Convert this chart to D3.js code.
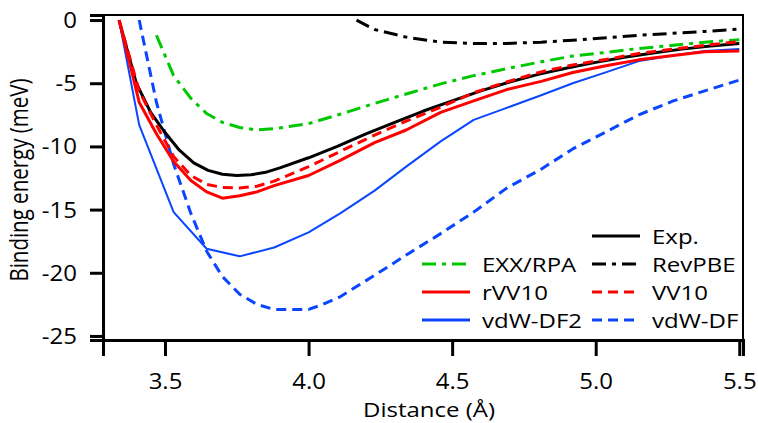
<!DOCTYPE html>
<html><head><meta charset="utf-8">
<script src="https://cdn.jsdelivr.net/npm/d3@7"></script>
<style>
html,body{margin:0;padding:0;background:#fff;}
text{font-family:"Open Sans",sans-serif;fill:#000;}
</style></head>
<body>
<svg id="chart" width="758" height="423"></svg>
<script>
// ---- data ----
const expX   = [3.34,3.40,3.45,3.50,3.55,3.60,3.65,3.70,3.75,3.80,3.85,3.90,4.0,4.1,4.2,4.3,4.4,4.5,4.6,4.7,4.8,4.9,5.0,5.1,5.2,5.3,5.4,5.5];
const expY   = [0,-5.0,-7.3,-8.9,-10.3,-11.3,-11.9,-12.2,-12.3,-12.25,-12.05,-11.7,-10.9,-10.0,-9.0,-8.1,-7.2,-6.4,-5.6,-4.9,-4.3,-3.8,-3.35,-2.95,-2.6,-2.3,-2.05,-1.85];

const calcX  = [3.34,3.41,3.47,3.53,3.59,3.645,3.70,3.76,3.82,3.88,4.0,4.11,4.23,4.34,4.46,4.575,4.69,4.81,4.92,5.04,5.15,5.27,5.38,5.5];
const rvv10Y = [0,-6.5,-9.0,-11.2,-12.7,-13.6,-14.1,-13.9,-13.6,-13.1,-12.3,-11.1,-9.7,-8.7,-7.3,-6.4,-5.5,-4.85,-4.15,-3.6,-3.15,-2.8,-2.5,-2.45];
const vv10Y  = [0,-5.6,-8.3,-10.8,-12.3,-13.0,-13.25,-13.3,-13.15,-12.75,-11.6,-10.4,-9.1,-8.0,-6.9,-5.75,-4.9,-4.1,-3.55,-3.1,-2.65,-2.3,-2.0,-1.7];

const df2X   = [3.34,3.41,3.53,3.645,3.76,3.88,4.0,4.11,4.23,4.34,4.46,4.575,4.69,4.81,4.92,5.04,5.15,5.27,5.38,5.5];
const df2Y   = [0,-8.3,-15.2,-18.1,-18.7,-18.0,-16.8,-15.3,-13.5,-11.6,-9.6,-7.9,-6.95,-5.95,-5.0,-4.1,-3.25,-2.8,-2.45,-2.3];

const dfX    = [3.41,3.47,3.53,3.59,3.645,3.70,3.76,3.82,3.88,4.0,4.05,4.11,4.23,4.34,4.46,4.575,4.69,4.81,4.92,5.04,5.15,5.27,5.38,5.5];
const dfY    = [0,-6.5,-11.4,-15.3,-18.3,-20.3,-21.7,-22.5,-22.9,-22.9,-22.5,-21.9,-20.2,-18.6,-16.9,-15.2,-13.3,-11.8,-10.2,-8.8,-7.5,-6.4,-5.6,-4.75];

const rpaX   = [3.47,3.53,3.59,3.645,3.70,3.76,3.82,3.88,4.0,4.11,4.23,4.34,4.46,4.575,4.69,4.81,4.92,5.04,5.15,5.27,5.38,5.5];
const rpaY   = [-1.2,-4.4,-6.2,-7.4,-8.1,-8.5,-8.7,-8.6,-8.2,-7.45,-6.6,-5.85,-5.05,-4.4,-3.85,-3.3,-2.85,-2.55,-2.25,-2.0,-1.75,-1.55];

const pbeX   = [4.167,4.23,4.34,4.46,4.575,4.69,4.81,4.92,5.04,5.15,5.27,5.38,5.5];
const pbeY   = [0,-0.75,-1.35,-1.75,-1.85,-1.85,-1.75,-1.6,-1.4,-1.2,-1.05,-0.9,-0.72];

const xTicks = [3.5,4.0,4.5,5.0,5.5];
const yTicks = [0,-5,-10,-15,-20,-25];

// ---- series styling ----
const series = [
  {name:"Exp.",     xs:expX,  ys:expY,   color:"#000000", w:3,   dash:null,       col:1,row:0},
  {name:"EXX/RPA",  xs:rpaX,  ys:rpaY,   color:"#00c800", w:3,   dash:"14,6,4,6", col:0,row:1},
  {name:"RevPBE",   xs:pbeX,  ys:pbeY,   color:"#000000", w:3,   dash:"14,6,4,6", col:1,row:1},
  {name:"rVV10",    xs:calcX, ys:rvv10Y, color:"#ff0000", w:3,   dash:null,       col:0,row:2},
  {name:"VV10",     xs:calcX, ys:vv10Y,  color:"#ff0000", w:3,   dash:"10,6",     col:1,row:2},
  {name:"vdW-DF2",  xs:df2X,  ys:df2Y,   color:"#0a46ff", w:2,   dash:null,       col:0,row:3},
  {name:"vdW-DF",   xs:dfX,   ys:dfY,    color:"#0a46ff", w:3,   dash:"10,6",     col:1,row:3}
];

const svg = d3.select("#chart");
const L = 103, R = 743, T = 15, B = 340;
const x = d3.scaleLinear().domain([3.284, 5.513]).range([L, R]);
const y = d3.scaleLinear().domain([-25.32, 0.40]).range([B, T]);

svg.append("clipPath").attr("id","clip")
  .append("rect").attr("x",L).attr("y",T).attr("width",R-L).attr("height",B-T);

// frame (top & right)
svg.append("path").attr("d",`M${L},${T}H${R}V${B}`).attr("fill","none")
  .attr("stroke","#000").attr("stroke-width",2);

const line = d3.line().x(d=>x(d[0])).y(d=>y(d[1]));
const g = svg.append("g").attr("clip-path","url(#clip)");
const order = ["vdW-DF","vdW-DF2","EXX/RPA","RevPBE","Exp.","rVV10","VV10"];
order.forEach(n=>{
  const s = series.find(d=>d.name===n);
  g.append("path").datum(d3.zip(s.xs,s.ys)).attr("d",line)
    .attr("fill","none").attr("stroke",s.color).attr("stroke-width",s.w)
    .attr("stroke-dasharray",s.dash).attr("stroke-linejoin","round");
});

// axes
const xAxis = d3.axisBottom(x).tickValues(xTicks).tickFormat(d3.format(".1f")).tickSizeOuter(0).tickSize(16);
const gx = svg.append("g").attr("transform",`translate(0,${B})`).call(xAxis);
gx.select(".domain").attr("stroke-width",3);
gx.selectAll(".tick line").attr("stroke-width",3);
gx.selectAll(".tick text").attr("y",0).attr("dy",null)
  .attr("transform","translate(0,48.5) scale(1,0.87)")
  .style("font-size","24px").style("font-family","Open Sans");

const yAxis = d3.axisLeft(y).tickValues(yTicks).tickFormat(d=>String(d)).tickSizeOuter(0).tickSize(13);
const gy = svg.append("g").attr("transform",`translate(${L},0)`).call(yAxis);
gy.select(".domain").attr("stroke-width",3);
gy.selectAll(".tick line").attr("stroke-width",3);
gy.selectAll(".tick text").attr("x",0).attr("dy",null)
  .attr("transform","translate(-26,7.5) scale(1,0.87)")
  .style("font-size","24px").style("font-family","Open Sans");

svg.append("text").attr("transform","translate(429,416.5) scale(1,0.85)").attr("text-anchor","middle")
  .style("font-size","24px").text("Distance (Å)");
svg.append("text").attr("transform","translate(28,180) rotate(-90) scale(0.82,1)").attr("text-anchor","middle")
  .style("font-size","25px").text("Binding energy (meV)");

// legend
const colX = [422, 592], rowY = [236, 264, 292, 320];
series.forEach(s=>{
  const lx = colX[s.col], ly = rowY[s.row];
  svg.append("line").attr("x1",lx).attr("x2",lx+48).attr("y1",ly).attr("y2",ly)
    .attr("stroke",s.color).attr("stroke-width",3).attr("stroke-dasharray",s.dash);
  svg.append("text").attr("transform",`translate(${lx+60},${ly+7.5}) scale(1,0.83)`)
    .style("font-size","24px").text(s.name);
});
</script>
</body></html>
